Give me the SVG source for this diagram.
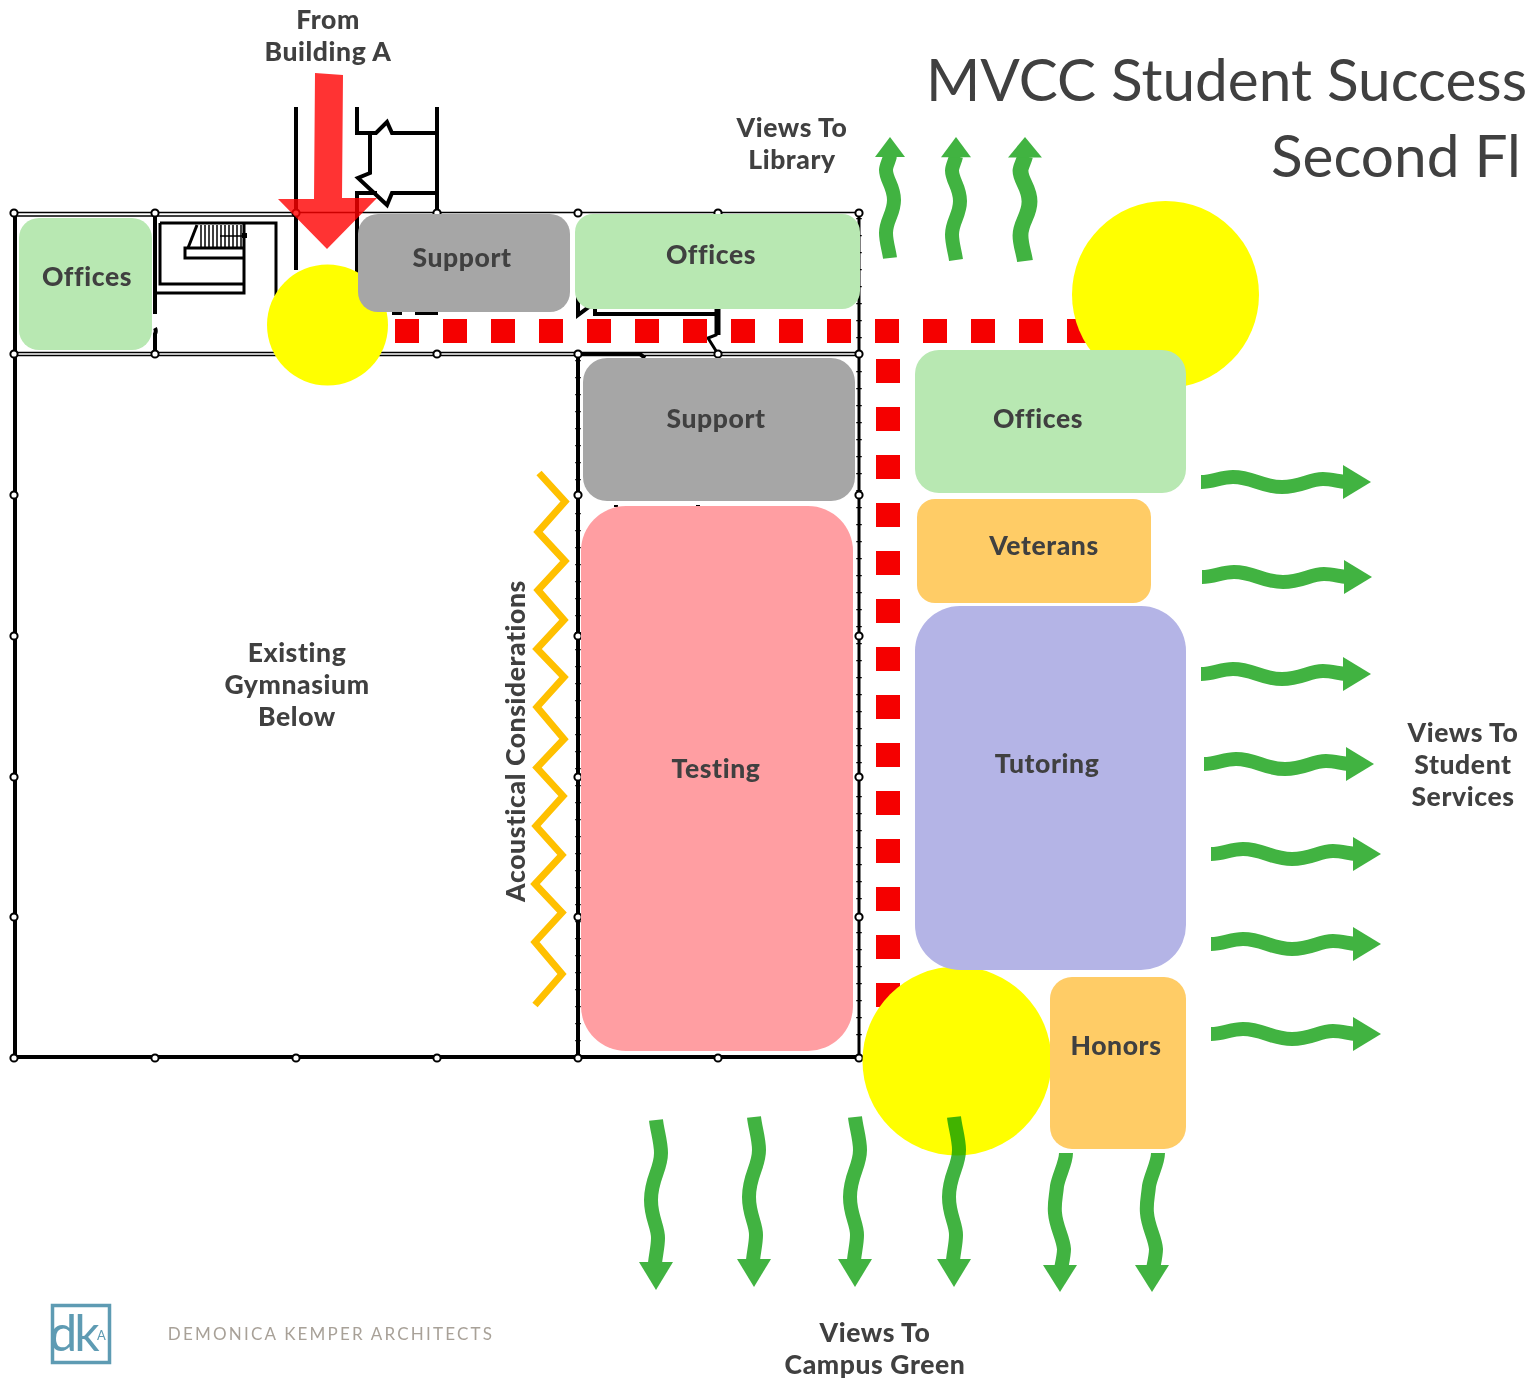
<svg xmlns="http://www.w3.org/2000/svg" xmlns:xlink="http://www.w3.org/1999/xlink" width="1526" height="1379" viewBox="0 0 1526 1379">
<style>
text{font-family:"Lato","Liberation Sans",sans-serif;font-weight:900;fill:#404040;text-anchor:middle;font-size:26.500px;letter-spacing:.6px}
.title{font-weight:400;font-size:58.500px;text-anchor:start;letter-spacing:0}
.w3{fill:none;stroke:#000;stroke-width:4}
.w2{fill:none;stroke:#000;stroke-width:3}
.w1{fill:none;stroke:#000;stroke-width:1.500}
.tick{fill:none;stroke:#000;stroke-width:5.500;stroke-dasharray:1.300 15.700}
.n{fill:#fff;stroke:#000;stroke-width:2}
.g{fill:#B8E8B2}.s{fill:#A6A6A6}.o{fill:#FFCC66}
.a{fill:none;stroke:#41B341;stroke-width:14}
.h{fill:#41B341}
</style>
<defs>
<g id="wr"><path class="a" d="M0 0C12 0 20-5 32-5C52-5 60 5 81 5C100 5 108-3 122-3C130-3 136-1 145 0"/><polygon class="h" points="142,-17 170,0 142,17"/></g>
<g id="wd"><path class="a" d="M0 0C1 10 5 22 5 33C5 50-5 58-5 80C-5 98 2 106 2 118C2 126 0 134-1 143"/><polygon class="h" points="-17,142 17,142 0,170"/></g>
<g id="wds"><path class="a" d="M0 0C0 10-7 22-9 33C-10 44-12 50-11 60C-10 74-3 84-2 96C-2 104-5 114-6 122"/><polygon class="h" points="-23,112 11,112 -6,139"/></g>
<g id="wu"><path class="a" d="M0 0C-1-8-4-16-4-25C-4-38 4-44 4-58C4-72-4-78-4-88C-4-92-1-97 0-102"/><polygon class="h" points="-15,-101 15,-101 0,-121"/></g>
</defs>

<g id="floorplan">
<path class="w3" d="M15 354V1057H860"/>
<path class="w3" d="M578 354V1057"/>
<path class="w2" d="M859 216V1057"/>
<path class="w3" d="M15 216V354"/>
<path class="w1" d="M15 212.500H860M15 216H296"/>
<path class="w1" d="M15 352.500H860M15 355.500H860"/>
<path class="w3" d="M155 213V314M155 328C156 330 156 332 155 334V354"/>
<path class="w3" d="M296 107V270"/>
<path class="w3" d="M357 107V133H376L387 122L392 133H437M437 107V213"/>
<path class="w3" d="M370 133V173L358 178L387 205L392 193H437M377 193H357V280"/>
<path class="w3" d="M392 313H402M415 313H438"/>
<path class="w2" d="M160 223V284H243M160 223H276V296M155 293H244V224M185 248H244V258H185Z"/>
<path class="w2" d="M188 248L197 225"/>
<path class="w1" d="M201 225V248M205 225V248M209 225V248M213 225V248M217 225V248M221 225V248M225 225V248M229 225V248M233 225V248M237 225V248M241 225V248M220 236H246"/>
<rect x="242" y="233" width="5" height="5"/>
<path class="w3" d="M578 290L590 306L578 315ZM595 307V314H717V309"/>
<path class="w2" d="M716 309V335L708 338L718 354M719 309V335"/>
<path class="w3" d="M578 354H640L645 358"/>
<path class="w3" d="M616 505V507M698 505V507"/>
<path class="tick" d="M578 360V1050M859 218V1050"/>
<circle class="n" cx="14" cy="213" r="3.600"/><circle class="n" cx="155" cy="213" r="3.600"/><circle class="n" cx="296" cy="213" r="3.600"/><circle class="n" cx="437" cy="213" r="3.600"/><circle class="n" cx="578" cy="213" r="3.600"/><circle class="n" cx="718" cy="213" r="3.600"/><circle class="n" cx="859" cy="213" r="3.600"/>
<circle class="n" cx="14" cy="354" r="3.600"/><circle class="n" cx="155" cy="354" r="3.600"/><circle class="n" cx="437" cy="354" r="3.600"/><circle class="n" cx="578" cy="354" r="3.600"/><circle class="n" cx="718" cy="354" r="3.600"/><circle class="n" cx="859" cy="354" r="3.600"/>
<circle class="n" cx="14" cy="495" r="3.600"/><circle class="n" cx="14" cy="636" r="3.600"/><circle class="n" cx="14" cy="777" r="3.600"/><circle class="n" cx="14" cy="917" r="3.600"/><circle class="n" cx="14" cy="1058" r="3.600"/>
<circle class="n" cx="578" cy="495" r="3.600"/><circle class="n" cx="578" cy="636" r="3.600"/><circle class="n" cx="578" cy="777" r="3.600"/><circle class="n" cx="578" cy="917" r="3.600"/><circle class="n" cx="578" cy="1058" r="3.600"/>
<circle class="n" cx="859" cy="495" r="3.600"/><circle class="n" cx="859" cy="636" r="3.600"/><circle class="n" cx="859" cy="777" r="3.600"/><circle class="n" cx="859" cy="917" r="3.600"/><circle class="n" cx="859" cy="1058" r="3.600"/>
<circle class="n" cx="155" cy="1058" r="3.600"/><circle class="n" cx="296" cy="1058" r="3.600"/><circle class="n" cx="437" cy="1058" r="3.600"/><circle class="n" cx="718" cy="1058" r="3.600"/>
</g>

<g id="connectors">
<path fill="none" stroke="#F50000" stroke-width="24" stroke-dasharray="24 24" d="M395 331H1091M888 359V1007"/>
<polyline fill="none" stroke="#FFC000" stroke-width="7" points="539,473 565,501.500 538,532 565,561 538,590 564,620 537,649 564,677 537,707 564,739 537,767.500 563,796 536,826 562,855 535,884 562,912.500 535,942 562,974 535,1005"/>
</g>

<g id="hub-1"><circle cx="327.500" cy="325" r="60.500" fill="#FF0"/></g>
<g id="hub-2"><circle cx="1165.500" cy="294.500" r="93.500" fill="#FF0"/></g>
<g id="hub-3"><circle cx="957" cy="1061" r="94.500" fill="#FF0"/></g>

<g id="offices-1"><rect class="g" x="19" y="218" width="133" height="132" rx="20"/><text x="87" y="286">Offices</text></g>
<g id="support-1"><rect class="s" x="358" y="214" width="212" height="98" rx="20"/><text x="462" y="267">Support</text></g>
<g id="offices-2"><rect class="g" x="575" y="214" width="285" height="95" rx="18"/><text x="711" y="264">Offices</text></g>
<g id="support-2"><rect class="s" x="583" y="358" width="272" height="143" rx="24"/><text x="716" y="428">Support</text></g>
<g id="testing"><rect x="581" y="506" width="272" height="545" rx="45" fill="#FF9EA2"/><text x="716" y="778">Testing</text></g>
<g id="offices-3"><rect class="g" x="915" y="350" width="271" height="143" rx="24"/><text x="1038" y="428">Offices</text></g>
<g id="veterans"><rect class="o" x="917" y="499" width="234" height="104" rx="18"/><text x="1044" y="555">Veterans</text></g>
<g id="tutoring"><rect x="915" y="606" width="271" height="364" rx="45" fill="#B4B4E6"/><text x="1047" y="773">Tutoring</text></g>
<g id="honors"><rect class="o" x="1050" y="977" width="136" height="172" rx="22"/><text x="1116" y="1055">Honors</text></g>

<g id="entry-arrow"><polygon fill="#F00" fill-opacity=".8" points="315,73 343,75 342,198 377,198 327,249 278,199 314,199"/></g>

<g id="view-arrows">
<use xlink:href="#wu" href="#wu" x="890" y="258"/>
<use xlink:href="#wu" href="#wu" transform="translate(956 260) scale(1 1.017)"/>
<use xlink:href="#wu" href="#wu" transform="translate(1025 261) scale(1.13 1.025)"/>
<use xlink:href="#wr" href="#wr" x="1201" y="482"/>
<use xlink:href="#wr" href="#wr" x="1202" y="577"/>
<use xlink:href="#wr" href="#wr" x="1201" y="674"/>
<use xlink:href="#wr" href="#wr" x="1204" y="764"/>
<use xlink:href="#wr" href="#wr" x="1211" y="854"/>
<use xlink:href="#wr" href="#wr" x="1211" y="944"/>
<use xlink:href="#wr" href="#wr" x="1211" y="1034"/>
<use xlink:href="#wd" href="#wd" x="656" y="1120"/>
<use xlink:href="#wd" href="#wd" x="754" y="1117"/>
<use xlink:href="#wd" href="#wd" x="855" y="1117"/>
<use xlink:href="#wd" href="#wd" x="954" y="1117" style="mix-blend-mode:multiply"/>
<use xlink:href="#wds" href="#wds" x="1066" y="1153"/>
<use xlink:href="#wds" href="#wds" x="1158" y="1153"/>
</g>

<g id="labels">
<text x="328" y="29">From</text><text x="328" y="61">Building A</text>
<text x="792" y="137">Views To</text><text x="792" y="169">Library</text>
<text x="297" y="662">Existing</text><text x="297" y="694">Gymnasium</text><text x="297" y="726">Below</text>
<text transform="translate(525 741) rotate(-90)">Acoustical Considerations</text>
<text x="1463" y="742">Views To</text><text x="1463" y="774">Student</text><text x="1463" y="806">Services</text>
<text x="875" y="1342">Views To</text><text x="875" y="1374">Campus Green</text>
<text class="title" x="926" y="101">MVCC Student Success</text>
<text class="title" x="1271" y="177">Second Fl</text>
</g>

<g id="logo">
<rect x="52.500" y="1305.500" width="57" height="57" fill="#fff" stroke="#5E9BB3" stroke-width="3.500"/>
<text x="73" y="1351" style="font-size:50px;font-weight:400;fill:#5E9BB3;letter-spacing:-3px">dk</text>
<text x="101.500" y="1340" style="font-size:13px;font-weight:400;fill:#5E9BB3;letter-spacing:0">A</text>
<text x="331" y="1340" style="font-size:17px;font-weight:400;fill:#A8A198;letter-spacing:2.200px">DEMONICA KEMPER ARCHITECTS</text>
</g>
</svg>
